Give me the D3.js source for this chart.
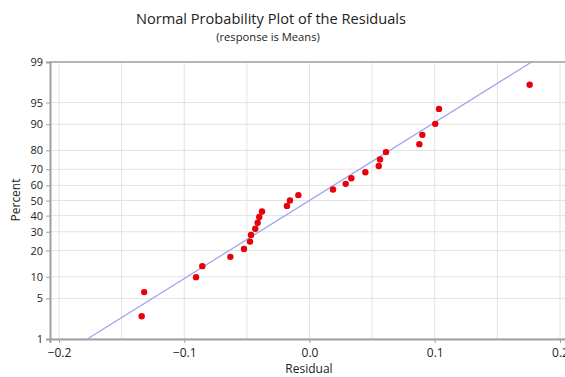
<!DOCTYPE html>
<html>
<head>
<meta charset="utf-8">
<script src="https://cdn.jsdelivr.net/npm/d3@7/dist/d3.min.js"></script>
<style>
  body { margin: 0; background: #fff; }
  text { font-family: "Open Sans", sans-serif; fill: #222; }
</style>
</head>
<body>
<div id="chart"></div>
<script>
// residuals, sorted
var residuals = [-0.134, -0.132, -0.0906, -0.0856, -0.0632, -0.0523, -0.0475, -0.0467, -0.0433,
    -0.0414, -0.0401, -0.0379, -0.0180, -0.0156, -0.0089, 0.0188, 0.0289, 0.0334,
    0.0446, 0.0553, 0.0563, 0.0611, 0.0877, 0.0901, 0.1004, 0.1034, 0.1758];
// percent (plotting positions)
var percents = [2.6, 6.2, 9.9, 13.5, 17.2, 20.8, 24.5, 28.1, 31.8,
    35.4, 39.1, 42.7, 46.4, 50.0, 53.6, 57.3, 61.0, 64.6,
    68.2, 71.9, 75.5, 79.2, 82.8, 86.5, 90.1, 93.8, 97.4];
var yTicks = [1, 5, 10, 20, 30, 40, 50, 60, 70, 80, 90, 95, 99];
var xTicks = [-0.2, -0.1, 0.0, 0.1, 0.2];
var xGrid = [-0.2, -0.15, -0.1, -0.05, 0.0, 0.05, 0.1, 0.15, 0.2];

// inverse normal cdf (Acklam)
function probit(p) {
    var a = [-39.69683028665376, 220.9460984245205, -275.9285104469687, 138.3577518672690, -30.66479806614716, 2.506628277459239];
    var b = [-54.47609879822406, 161.5858368580409, -155.6989798598866, 66.80131188771972, -13.28068155288572];
    var c = [-0.007784894002430293, -0.3223964580411365, -2.400758277161838, -2.549732539343734, 4.374664141464968, 2.938163982698783];
    var d = [0.007784695709041462, 0.3224671290700398, 2.445134137142996, 3.754408661907416];
    var pl = 0.02425, q, r;
    if (p < pl) {
        q = Math.sqrt(-2 * Math.log(p));
        return (((((c[0]*q+c[1])*q+c[2])*q+c[3])*q+c[4])*q+c[5]) / ((((d[0]*q+d[1])*q+d[2])*q+d[3])*q+1);
    }
    if (p > 1 - pl) {
        q = Math.sqrt(-2 * Math.log(1 - p));
        return -(((((c[0]*q+c[1])*q+c[2])*q+c[3])*q+c[4])*q+c[5]) / ((((d[0]*q+d[1])*q+d[2])*q+d[3])*q+1);
    }
    q = p - 0.5; r = q * q;
    return (((((a[0]*r+a[1])*r+a[2])*r+a[3])*r+a[4])*r+a[5])*q / (((((b[0]*r+b[1])*r+b[2])*r+b[3])*r+b[4])*r+1);
}

var margin = {top: 62, right: 0, bottom: 38, left: 50},
    width = 520,
    height = 277;

var svg = d3.select("#chart")
    .append("svg")
    .attr("width", 565)
    .attr("height", 377);

// titles
svg.append("text")
    .attr("x", 271).attr("y", 24)
    .attr("text-anchor", "middle")
    .style("font-size", "14.6px")
    .text("Normal Probability Plot of the Residuals");
svg.append("text")
    .attr("x", 268).attr("y", 41)
    .attr("text-anchor", "middle")
    .style("font-size", "11.2px")
    .text("(response is Means)");

var g = svg.append("g")
    .attr("transform", "translate(" + margin.left + "," + margin.top + ")");

// scales
var x = d3.scaleLinear()
    .domain([-0.2072, 0.2080])
    .range([0, width]);
var z = d3.scaleLinear()
    .domain([probit(0.01), probit(0.99)])
    .range([height, 0]);
var y = function(p) { return z(probit(p / 100)); };

// grid
g.append("g").selectAll("line")
    .data(xGrid).enter().append("line")
    .attr("x1", function(d) { return x(d); })
    .attr("x2", function(d) { return x(d); })
    .attr("y1", 0).attr("y2", height)
    .style("stroke", "#e3e3e3");
g.append("g").selectAll("line")
    .data(yTicks).enter().append("line")
    .attr("x1", 0).attr("x2", width)
    .attr("y1", function(d) { return y(d); })
    .attr("y2", function(d) { return y(d); })
    .style("stroke", "#e3e3e3");

// frame
g.append("line").attr("x1", 0).attr("x2", width).attr("y1", 0).attr("y2", 0)
    .style("stroke", "#b4b4b4").style("stroke-width", 2);

// axes
var yAxis = g.append("g")
    .call(d3.axisLeft(z).tickValues(yTicks.map(function(d) { return probit(d / 100); }))
        .tickFormat(function(d, i) { return yTicks[i]; })
        .tickSize(4).tickPadding(3));
var xAxis = g.append("g")
    .attr("transform", "translate(0," + height + ")")
    .call(d3.axisBottom(x).tickValues(xTicks)
        .tickFormat(d3.format(".1f"))
        .tickSize(4).tickPadding(5));
[xAxis, yAxis].forEach(function(a) {
    a.select(".domain").style("stroke", "#a0a0a0").style("stroke-width", 2);
    a.selectAll(".tick line").style("stroke", "#a0a0a0");
    a.selectAll("text").style("font-size", "11px").style("fill", "#222")
        .style("font-family", "'Open Sans', sans-serif");
});
xAxis.selectAll("text").style("font-size", "12px");

// fitted normal line
var mean = d3.mean(residuals), sd = d3.deviation(residuals);
var lineP = [0.01, 0.99];
g.append("line")
    .attr("x1", x(mean + probit(lineP[0]) * sd))
    .attr("y1", z(probit(lineP[0])))
    .attr("x2", x(mean + probit(lineP[1]) * sd))
    .attr("y2", z(probit(lineP[1])))
    .style("stroke", "#a0a0ec")
    .style("stroke-width", 1.2);

// points
g.append("g").selectAll("circle")
    .data(residuals).enter().append("circle")
    .attr("cx", function(d) { return x(d); })
    .attr("cy", function(d, i) { return y(percents[i]); })
    .attr("r", 3.2)
    .style("fill", "#e8000b");

// axis labels
svg.append("text")
    .attr("x", 309).attr("y", 373)
    .attr("text-anchor", "middle")
    .style("font-size", "12px")
    .text("Residual");
svg.append("text")
    .attr("transform", "translate(20,200) rotate(-90)")
    .attr("text-anchor", "middle")
    .style("font-size", "12px")
    .text("Percent");
</script>
</body>
</html>
